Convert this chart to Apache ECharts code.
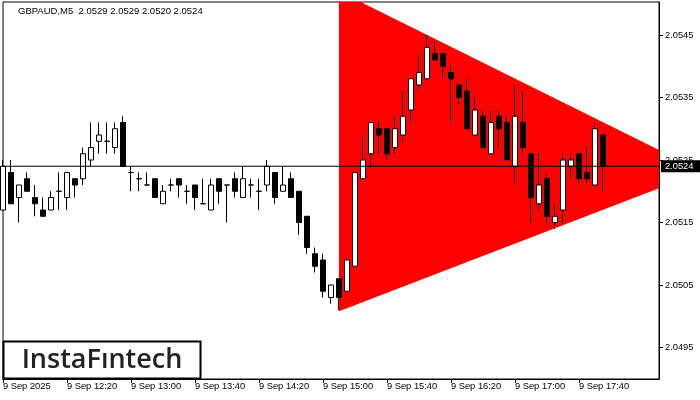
<!DOCTYPE html>
<html>
<head>
<meta charset="utf-8">
<script src="https://cdn.jsdelivr.net/npm/echarts@6/dist/echarts.min.js"></script>
<style>html,body{margin:0;padding:0;background:#fff}#c{width:700px;height:400px}</style>
</head>
<body>
<div id="c"></div>
<script>
const times = ["11:40","11:45","11:50","11:55","12:00","12:05","12:10","12:15","12:20","12:25","12:30","12:35","12:40","12:45","12:50","12:55","13:00","13:05","13:10","13:15","13:20","13:25","13:30","13:35","13:40","13:45","13:50","13:55","14:00","14:05","14:10","14:15","14:20","14:25","14:30","14:35","14:40","14:45","14:50","14:55","15:00","15:05","15:10","15:15","15:20","15:25","15:30","15:35","15:40","15:45","15:50","15:55","16:00","16:05","16:10","16:15","16:20","16:25","16:30","16:35","16:40","16:45","16:50","16:55","17:00","17:05","17:10","17:15","17:20","17:25","17:30","17:35","17:40","17:45","17:50","17:55","18:00","18:05","18:10","18:15","18:20","18:25","18:30"];
const xTickIndex = [0, 8, 16, 24, 32, 40, 48, 56, 64, 72];
const xTickLabels = ["9 Sep 2025","9 Sep 12:20","9 Sep 13:00","9 Sep 13:40","9 Sep 14:20","9 Sep 15:00","9 Sep 15:40","9 Sep 16:20","9 Sep 17:00","9 Sep 17:40"];
const yTickValues = [2.0495, 2.0505, 2.0515, 2.0525, 2.0535, 2.0545];

const opens  = [2.0517,2.0523,2.0519,2.0522,2.0519,2.0517,2.0517,2.0520,2.0519,2.0522,2.0522,2.0525,2.0528,2.0528,2.0527,2.0531,2.0523,2.0522,2.0521,2.0522,2.0518,2.0521,2.0522,2.0520,2.0521,2.0518,2.0517,2.0522,2.0521,2.0522,2.0519,2.0521,2.0520,2.0521,2.0523,2.0520,2.0522,2.0520,2.0516,2.0510,2.0509,2.0503,2.0506,2.0504,2.0508,2.0522,2.0526,2.0530,2.0530,2.0527,2.0529,2.0533,2.0537,2.0538,2.0542,2.0542,2.0539,2.0537,2.0536,2.0529,2.0532,2.0526,2.0532,2.0531,2.0524,2.0531,2.0526,2.0518,2.0522,2.0515,2.0517,2.0524,2.0526,2.0523,2.0521,2.0529];
const closes = [2.0524,2.0518,2.0521,2.0520,2.0518,2.0516,2.0519,2.0520,2.0523,2.0521,2.0526,2.0527,2.0529,2.0528,2.0530,2.0524,2.0523,2.0522,2.0521,2.0519,2.0520,2.0521,2.0521,2.0520,2.0519,2.0518,2.0521,2.0520,2.0521,2.0520,2.0522,2.0521,2.0520,2.0524,2.0519,2.0521,2.0519,2.0515,2.0511,2.0508,2.0504,2.0505,2.0503,2.0509,2.0523,2.0525,2.0531,2.0529,2.0526,2.0530,2.0532,2.0538,2.0539,2.0543,2.0541,2.0540,2.0538,2.0535,2.0530,2.0533,2.0527,2.0531,2.0530,2.0525,2.0532,2.0527,2.0519,2.0521,2.0516,2.0516,2.0525,2.0525,2.0522,2.0522,2.0530,2.0524];
const lows   = [2.0517,2.0518,2.0515,2.0520,2.0516,2.0516,2.0517,2.0517,2.0517,2.0519,2.0521,2.0524,2.0526,2.0526,2.0526,2.0524,2.0520,2.0520,2.0521,2.0519,2.0518,2.0520,2.0519,2.0518,2.0517,2.0518,2.0517,2.0518,2.0515,2.0519,2.0519,2.0519,2.0517,2.0520,2.0518,2.0520,2.0519,2.0513,2.0510,2.0507,2.0503,2.0502,2.0501,2.0504,2.0508,2.0522,2.0524,2.0526,2.0525,2.0526,2.0528,2.0531,2.0536,2.0538,2.0541,2.0538,2.0531,2.0534,2.0530,2.0529,2.0527,2.0526,2.0527,2.0525,2.0521,2.0526,2.0515,2.0517,2.0515,2.0514,2.0515,2.0522,2.0521,2.0521,2.0521,2.0520];
const highs  = [2.0525,2.0525,2.0521,2.0523,2.0521,2.0519,2.0520,2.0523,2.0523,2.0522,2.0527,2.0531,2.0531,2.0531,2.0531,2.0532,2.0524,2.0523,2.0523,2.0522,2.0521,2.0522,2.0522,2.0521,2.0521,2.0522,2.0522,2.0522,2.0521,2.0523,2.0524,2.0522,2.0522,2.0525,2.0523,2.0524,2.0523,2.0520,2.0516,2.0511,2.0510,2.0505,2.0506,2.0509,2.0523,2.0529,2.0531,2.0531,2.0530,2.0532,2.0536,2.0538,2.0542,2.0545,2.0544,2.0542,2.0540,2.0537,2.0538,2.0535,2.0533,2.0533,2.0533,2.0532,2.0537,2.0536,2.0526,2.0526,2.0523,2.0518,2.0526,2.0526,2.0526,2.0527,2.0531,2.0529];

const lastPrice = 2.0524;
const titleText = "GBPAUD,M5  2.0529 2.0529 2.0520 2.0524";

// triangle pattern vertices (category index, price)
const triX = [42, 82, 82, 42];
const triY = [2.05520, 2.05266, 2.05205, 2.05008];

const candleData = opens.map((o, i) => [o, closes[i], lows[i], highs[i]]);
const triData = triX.map((x, i) => [x, triY[i]]);
const priceLineData = [[0, lastPrice], [times.length - 1, lastPrice]];

const chart = echarts.init(document.getElementById('c'), null, {renderer: 'canvas'});
const FONT = '"Liberation Sans", Arial, sans-serif';

chart.setOption({
  animation: false,
  backgroundColor: '#fff',
  title: {
    text: titleText, left: 18, top: 6, padding: 0,
    textStyle: {fontSize: 9.5, fontWeight: 'normal', color: '#000', fontFamily: FONT}
  },
  grid: {left: 3, right: 41, top: 2, bottom: 21, show: true, borderColor: '#000', borderWidth: 1, backgroundColor: 'transparent'},
  xAxis: {
    type: 'category', data: times, boundaryGap: false,
    axisLine: {show: true, lineStyle: {color: '#000', width: 1}},
    axisTick: {show: true, length: 4, lineStyle: {color: '#000'}, interval: (idx) => xTickIndex.indexOf(idx) >= 0},
    axisLabel: {
      show: true, interval: (idx) => xTickIndex.indexOf(idx) >= 0,
      formatter: (val, idx) => { const k = xTickIndex.indexOf(idx); return k >= 0 ? xTickLabels[k] : ''; },
      align: 'left', margin: 3, fontSize: 9.3, color: '#000', fontFamily: FONT
    },
    splitLine: {show: false}
  },
  yAxis: {
    type: 'value', position: 'right', min: 2.048996, max: 2.055028, scale: true,
    axisLine: {show: true, lineStyle: {color: '#000', width: 1}},
    axisTick: {show: true, length: 4, customValues: yTickValues, lineStyle: {color: '#000'}},
    axisLabel: {show: true, customValues: yTickValues, formatter: (v) => v.toFixed(4), margin: 6, fontSize: 9.3, color: '#000', fontFamily: FONT},
    splitLine: {show: false}
  },
  series: [
    {
      type: 'custom', z: 1, silent: true,
      data: triData,
      encode: {x: 0, y: 1},
      renderItem: function (params, api) {
        if (params.dataIndex !== 0) return null;
        const pts = triData.map(d => api.coord([d[0], d[1]]));
        const cs = params.coordSys;
        return {
          type: 'polygon',
          shape: {points: pts},
          style: {fill: '#ff0000', stroke: null},
          clipPath: {type: 'rect', shape: {x: cs.x, y: cs.y, width: cs.width, height: cs.height}}
        };
      }
    },
    {
      type: 'candlestick', z: 3, silent: true,
      data: candleData,
      barWidth: 5,
      itemStyle: {color: '#fff', color0: '#000', borderColor: '#000', borderColor0: '#000', borderColorDoji: '#000', borderWidth: 1}
    },
    {
      type: 'line', z: 4, silent: true, symbol: 'none',
      data: priceLineData,
      lineStyle: {color: '#000', width: 1},
      endLabel: {
        show: true, distance: 2, formatter: () => lastPrice.toFixed(4),
        color: '#fff', backgroundColor: '#000', padding: [2, 10, 1, 4], fontSize: 9.3, fontFamily: FONT
      }
    }
  ],
  graphic: [
    {
      type: 'rect', z: 100,
      shape: {x: 3.5, y: 341.5, width: 197, height: 37},
      style: {fill: '#fff', stroke: '#000', lineWidth: 2}
    },
    {
      type: 'text', z: 101, x: 102, y: 360,
      style: {text: 'InstaFıntech', fill: '#222', font: '600 27px "Open Sans", sans-serif', textAlign: 'center', textVerticalAlign: 'middle'}
    }
  ]
});
</script>
</body>
</html>
